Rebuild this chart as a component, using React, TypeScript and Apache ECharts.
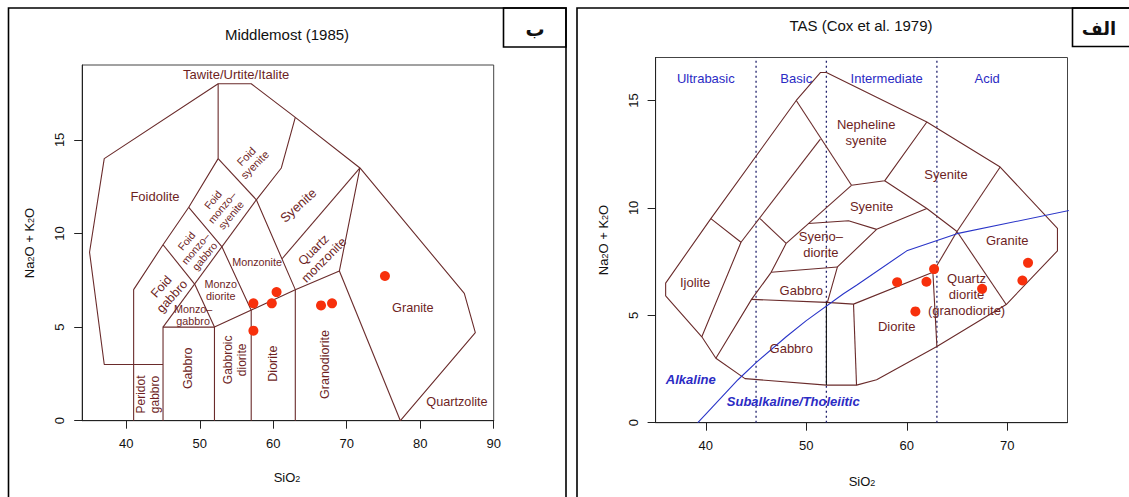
import React, { useEffect, useRef } from "react";
import * as echarts from "echarts";

const FONT = "Liberation Sans, Arial, Helvetica, sans-serif";
const BROWN = "#6a2b2b";
const TEXT = "#6e1f1f";
const BLUE = "#2b2bc4";
const NAVY = "#22226e";
const RED = "#f7300c";

// ---------- Middlemost (1985) panel ----------
const mmTicksX = [40, 50, 60, 70, 80, 90];
const mmTicksY = [0, 5, 10, 15];
const mmSamples = [
  [57.3, 6.27], [57.3, 4.81], [59.8, 6.27], [60.45, 6.87],
  [66.5, 6.16], [68.0, 6.27], [75.2, 7.73],
];
const mmBoundaries = [
  [[45, 3], [37, 3], [35, 9], [37, 14], [52.5, 18], [57, 18], [63, 16.2], [71.8, 13.5], [86, 6.8], [87.5, 4.7], [77.3, 0]],
  [[41, 0], [41, 7], [45, 9.4], [48.5, 11.4], [52.5, 14], [52.5, 18]],
  [[45, 0], [45, 5], [52, 5], [63, 7], [69, 8], [71.8, 13.5]],
  [[77.3, 0], [69, 8]],
  [[52, 0], [52, 5]],
  [[57, 0], [57, 5.9], [53, 9.3], [48.5, 11.4]],
  [[63, 0], [63, 7], [57.7, 11.8], [61.1, 13.5], [63, 16.2]],
  [[52.5, 14], [57.7, 11.8]],
  [[45, 5], [57.7, 11.8]],
  [[45, 9.4], [49.3, 7.3]],
  [[49.3, 7.3], [52, 5]],
  [[61.2, 8.65], [71.8, 13.5]],
];
const mmFieldNames = [
  "Tawite/Urtite/Italite", "Foidolite", "Foid\nsyenite", "Foid\nmonzo–\nsyenite", "Syenite",
  "Foid\nmonzo–\ngabbro", "Monzonite", "Quartz\nmonzonite", "Foid\ngabbro", "Monzo\ndiorite",
  "Monzo–\ngabbro", "Granite", "Peridot\ngabbro", "Gabbro", "Gabbroic\ndiorite", "Diorite",
  "Granodiorite", "Quartzolite",
];
const mmFieldAnchors = [
  [54.95, 18.47], [43.9, 11.97], [56.9, 13.9], [53.0, 11.4], [63.4, 11.5],
  [49.4, 9.2], [57.8, 8.5], [66.2, 8.85], [45.5, 6.9], [52.85, 7.0],
  [49.1, 5.65], [79.0, 6.0], [42.95, 1.4], [48.45, 2.8], [54.8, 3.25], [60.0, 3.05],
  [67.0, 3.0], [85.0, 1.0],
];
const mmFieldRotation = [0, 0, 45, 50, 42, 50, 0, 45, 48, 0, 0, 0, 90, 90, 90, 90, 90, 0];
const mmFieldFontSize = [13, 13, 11, 10.5, 13, 10.5, 10.8, 12.5, 12.5, 10.8, 10.8, 12.7, 12, 12.5, 12, 12.5, 12.5, 12.7];

// ---------- TAS (Cox et al. 1979) panel ----------
const coxTicksX = [40, 50, 60, 70];
const coxTicksY = [0, 5, 10, 15];
const coxSamples = [
  [59.04, 6.54], [61.96, 6.56], [62.72, 7.15], [60.86, 5.18],
  [67.5, 6.23], [72.07, 7.44], [71.51, 6.62],
];
const coxBoundaries = [
  [[36, 5.9], [36, 6.5], [40.5, 9.5], [49, 15], [51.4, 16.3], [52, 16.3], [62, 14], [69.3, 11.9], [75, 9.05], [75, 8], [69.9, 5.5], [63, 3.55], [57, 2], [55, 1.75], [52, 1.75], [43.9, 2.05], [41, 3], [39.6, 4], [36, 5.9]],
  [[40.5, 9.5], [43.5, 8.4], [39.6, 4]],
  [[43.5, 8.4], [51.4, 13.2]],
  [[49, 15], [54.5, 11.05]],
  [[45.4, 9.5], [48, 8.35]],
  [[41, 3], [44.55, 5.74], [46.5, 7.0], [48, 8.35]],
  [[48, 8.35], [54.5, 11.05]],
  [[54.5, 11.05], [57.8, 11.26], [62, 14]],
  [[57.8, 11.26], [62, 9.97], [65, 8.9]],
  [[50.2, 9.27], [54.2, 9.4], [57, 9.0], [62, 9.97]],
  [[57, 9.0], [53.1, 7.25], [52.1, 5.6]],
  [[46.5, 7.0], [53.1, 7.25]],
  [[44.55, 5.74], [52, 5.6], [54.7, 5.52], [62.6, 7.0]],
  [[54.7, 5.52], [55, 1.75]],
  [[62.6, 7.0], [63, 3.55]],
  [[62.6, 7.0], [65, 8.9]],
  [[65, 8.9], [69.3, 11.9]],
  [[65, 8.9], [69.9, 5.5]],
];
const coxBlackBoundary = [[52, 5.6], [52, 1.75]];
const alkalineDivide = [
  [39.2, 0], [40, 0.4], [43.2, 2], [45, 2.8], [48, 4], [50, 4.75],
  [53.7, 6], [55, 6.4], [60, 8], [65, 8.8], [77.4, 10],
];
const silicaDivisions = [45, 52, 63];
const silicaClassNames = ["Ultrabasic", "Basic", "Intermediate", "Acid"];
const silicaClassAnchors = [[40, 16], [49, 16], [58, 16], [68, 16]];
const seriesNames = ["Alkaline", "Subalkaline/Tholeiitic"];
const seriesAnchors = [[38.5, 2.0], [48.7, 0.98]];
const coxFieldNames = [
  "Nepheline\nsyenite", "Syenite", "Syenite", "Syeno–\ndiorite", "Ijolite", "Gabbro", "Gabbro",
  "Diorite", "Quartz\ndiorite\n(granodiorite)", "Granite",
];
const coxFieldAnchors = [
  [55.96, 13.5], [63.9, 11.55], [56.5, 10.05], [51.45, 8.28], [38.93, 6.53], [49.5, 6.17],
  [48.5, 3.46], [59.0, 4.47], [65.95, 5.97], [70.0, 8.5],
];

function boundarySeries(pts: number[][], idx: number, color = BROWN, width = 1.1) {
  return {
    type: "line",
    xAxisIndex: idx,
    yAxisIndex: idx,
    data: pts,
    symbol: "none",
    silent: true,
    lineStyle: { color, width, opacity: 1 },
    z: 2,
  };
}

function labelSeries(items: any[], idx: number, baseLabel: any) {
  return {
    type: "scatter",
    xAxisIndex: idx,
    yAxisIndex: idx,
    symbolSize: 1,
    silent: true,
    itemStyle: { color: "rgba(0,0,0,0)", opacity: 1 },
    label: {
      show: true,
      position: "inside",
      formatter: "{b}",
      align: "center",
      verticalAlign: "middle",
      fontFamily: FONT,
      opacity: 1,
      ...baseLabel,
    },
    data: items,
    z: 3,
  };
}

function xAxisDef(idx: number, min: number, max: number, ticks: number[]) {
  return {
    type: "value",
    gridIndex: idx,
    min,
    max,
    axisLine: { show: true, lineStyle: { color: "#222", width: 1 } },
    axisTick: { show: true, length: 8, inside: false, customValues: ticks, lineStyle: { color: "#222" } },
    axisLabel: { customValues: ticks, margin: 16, fontSize: 13, color: "#111", fontFamily: FONT },
    splitLine: { show: false },
  };
}

function yAxisDef(idx: number, min: number, max: number, ticks: number[]) {
  return {
    type: "value",
    gridIndex: idx,
    min,
    max,
    axisLine: { show: true, lineStyle: { color: "#222", width: 1 } },
    axisTick: { show: true, length: 8, inside: false, customValues: ticks, lineStyle: { color: "#222" } },
    axisLabel: { customValues: ticks, margin: 16, fontSize: 13, color: "#111", rotate: 90, fontFamily: FONT },
    splitLine: { show: false },
  };
}

const subRich = {
  s: { fontSize: 9, lineHeight: 9, verticalAlign: "bottom", padding: [12, 0, 0, 0], fontFamily: FONT, fill: "#111" },
};

function textEl(text: string, x: number, y: number, size: number, extra: any = {}, rotation = 0) {
  return {
    type: "text",
    x,
    y,
    rotation,
    z: 100,
    style: {
      text,
      fontSize: size,
      fontFamily: FONT,
      fill: "#111",
      align: "center",
      verticalAlign: "middle",
      rich: subRich,
      ...extra,
    },
  };
}

function rectEl(x: number, y: number, w: number, h: number) {
  return {
    type: "rect",
    z: 100,
    shape: { x, y, width: w, height: h },
    style: { fill: "none", stroke: "#000", lineWidth: 1.6 },
  };
}

export default function App() {
  const ref = useRef<HTMLDivElement>(null);

  useEffect(() => {
    if (!ref.current) return;
    const chart = echarts.init(ref.current, undefined, { renderer: "svg" });

    const series: any[] = [];
    mmBoundaries.forEach((b) => series.push(boundarySeries(b, 0)));
    coxBoundaries.forEach((b) => series.push(boundarySeries(b, 1)));
    series.push(boundarySeries(coxBlackBoundary, 1, "#111"));
    silicaDivisions.forEach((x) =>
      series.push({
        type: "line",
        xAxisIndex: 1,
        yAxisIndex: 1,
        data: [[x, 0], [x, 17]],
        symbol: "none",
        silent: true,
        lineStyle: { color: NAVY, width: 1.3, type: [2, 3] },
        z: 1,
      })
    );
    series.push(boundarySeries(alkalineDivide, 1, "#2a35c8", 1.1));

    series.push(
      labelSeries(
        mmFieldNames.map((n, i) => ({
          name: n,
          value: mmFieldAnchors[i],
          label: {
            rotate: mmFieldRotation[i],
            fontSize: mmFieldFontSize[i],
            lineHeight: mmFieldFontSize[i] < 11.5 ? 11.8 : 14.5,
          },
        })),
        0,
        { color: TEXT }
      )
    );
    series.push(
      labelSeries(
        coxFieldNames.map((n, i) => ({ name: n, value: coxFieldAnchors[i] })),
        1,
        { color: TEXT, fontSize: 13, lineHeight: 15.8 }
      )
    );
    series.push(
      labelSeries(
        silicaClassNames.map((n, i) => ({ name: n, value: silicaClassAnchors[i] })),
        1,
        { color: BLUE, fontSize: 13 }
      )
    );
    series.push(
      labelSeries(
        seriesNames.map((n, i) => ({ name: n, value: seriesAnchors[i] })),
        1,
        { color: BLUE, fontSize: 13, fontWeight: "bold", fontStyle: "italic" }
      )
    );

    series.push({
      type: "scatter",
      xAxisIndex: 0,
      yAxisIndex: 0,
      data: mmSamples,
      symbolSize: 10,
      itemStyle: { color: RED, opacity: 1 },
      z: 5,
    });
    series.push({
      type: "scatter",
      xAxisIndex: 1,
      yAxisIndex: 1,
      data: coxSamples,
      symbolSize: 10,
      itemStyle: { color: RED, opacity: 1 },
      z: 5,
    });

    chart.setOption({
      animation: false,
      backgroundColor: "#fff",
      textStyle: { fontFamily: FONT },
      grid: [
        { left: 82.2, top: 65, width: 411.5, height: 355.7, show: true, borderColor: "#444", borderWidth: 1, backgroundColor: "transparent" },
        { left: 655.6, top: 57.5, width: 411.9, height: 365.2, show: true, borderColor: "#444", borderWidth: 1, backgroundColor: "transparent" },
      ],
      xAxis: [xAxisDef(0, 34, 90, mmTicksX), xAxisDef(1, 35, 76, coxTicksX)],
      yAxis: [yAxisDef(0, 0, 19, mmTicksY), yAxisDef(1, 0, 17, coxTicksY)],
      series,
      graphic: [
        rectEl(8.5, 8, 557.5, 520),
        rectEl(577, 8, 580, 520),
        rectEl(503.5, 8, 62.5, 39),
        rectEl(1072.5, 8, 70, 38.5),
        textEl("ب", 535, 29, 19, { fontFamily: "DejaVu Sans", fontWeight: "bold" }),
        textEl("الف", 1099, 28, 18, { fontFamily: "DejaVu Sans", fontWeight: "bold" }),
        textEl("Middlemost (1985)", 287, 34, 15),
        textEl("TAS (Cox et al. 1979)", 861, 25, 15),
        textEl("SiO{s|2}", 287, 477, 13),
        textEl("SiO{s|2}", 862, 481, 13),
        textEl("Na{s|2}O + K{s|2}O", 29, 243, 13, {}, Math.PI / 2),
        textEl("Na{s|2}O + K{s|2}O", 603, 240, 13, {}, Math.PI / 2),
      ],
    });

    return () => chart.dispose();
  }, []);

  return (
    <div
      ref={ref}
      style={{ position: "fixed", left: 0, top: 0, width: 1129, height: 497, background: "#fff" }}
    />
  );
}
